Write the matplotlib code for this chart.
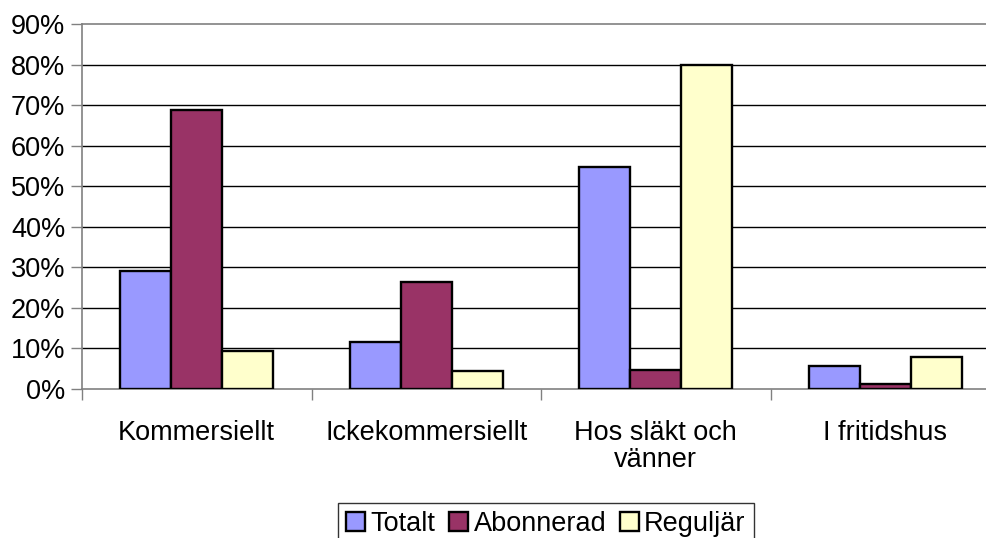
import matplotlib.pyplot as plt
import numpy as np
from matplotlib.patches import Patch

categories = ["Kommersiellt", "Ickekommersiellt", "Hos släkt och\nvänner", "I fritidshus"]
series = ["Totalt", "Abonnerad", "Reguljär"]
totalt = [29.1, 11.6, 54.7, 5.7]
abonnerad = [68.7, 26.4, 4.7, 1.2]
reguljar = [9.4, 4.4, 79.8, 7.9]
yticks = [0, 10, 20, 30, 40, 50, 60, 70, 80, 90]

colors = ["#9999FF", "#993366", "#FFFFCC"]

plt.rcParams['font.family'] = ['Liberation Sans', 'DejaVu Sans']
plt.rcParams['font.size'] = 19.5

fig = plt.figure(figsize=(9.86, 5.38), dpi=100)
ax = fig.add_axes([82 / 986, 1 - 389 / 538, 918 / 986, 365 / 538])

x = np.arange(len(categories))
w = 0.222
for i, (vals, c) in enumerate(zip([totalt, abonnerad, reguljar], colors)):
    ax.bar(x + (i - 1) * w, vals, width=w, color=c, edgecolor="black", linewidth=1.7, zorder=3)

ax.set_xlim(-0.5, len(categories) - 0.5)
ax.set_ylim(0, 90)
ax.set_yticks(yticks)
ax.set_yticklabels(["%d%%" % v for v in yticks])
for v in yticks[1:-1]:
    ax.axhline(v, color="black", linewidth=1, zorder=1)

ax.set_xticks(x)
ax.set_xticklabels(categories, linespacing=1.05)
ax.set_xticks(np.arange(-0.5, len(categories)), minor=True)
ax.tick_params(axis="x", which="major", length=0, pad=22)
ax.tick_params(axis="x", which="minor", length=8, color="#808080", width=1)
ax.tick_params(axis="y", length=8, color="#808080", width=1, pad=4)

for s in ["left", "bottom", "top"]:
    ax.spines[s].set_color("#808080")
    ax.spines[s].set_linewidth(1.2)
ax.spines["right"].set_visible(False)

handles = [Patch(facecolor=c, edgecolor="black", linewidth=1.7) for c in colors]
leg = fig.legend(handles, series, loc="upper center", bbox_to_anchor=(546 / 986, 1 - 503 / 538),
                 ncol=3, frameon=True, fancybox=False, edgecolor="black",
                 handlelength=0.7, handleheight=0.7, handletextpad=0.2, columnspacing=0.5,
                 borderpad=0.3, borderaxespad=0)
leg.get_frame().set_linewidth(1)

fig.savefig("out.png", dpi=100)
